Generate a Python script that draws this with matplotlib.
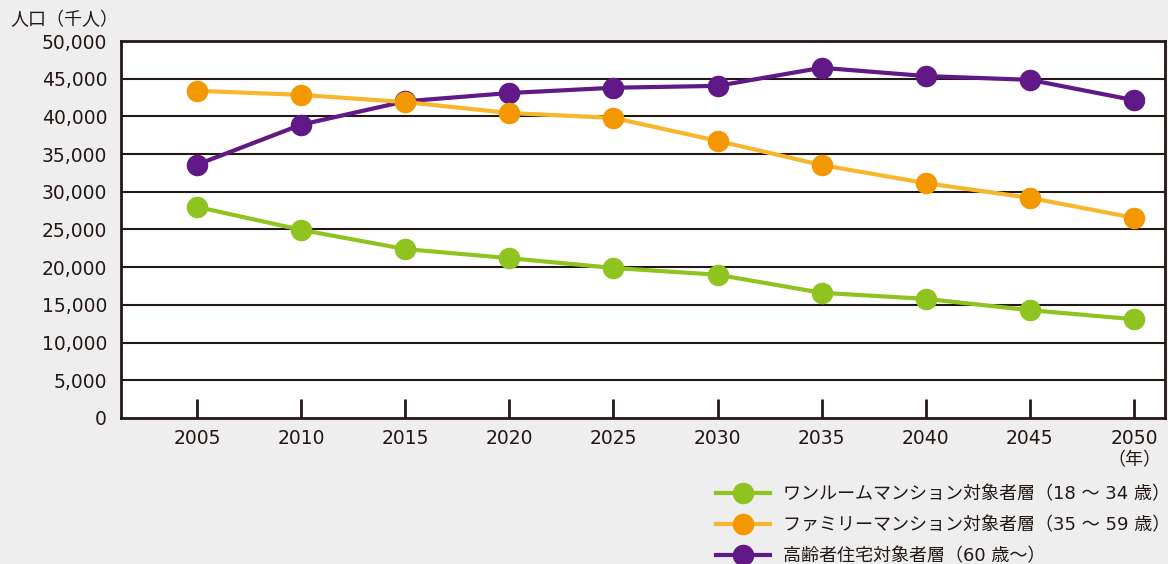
import matplotlib
matplotlib.use("Agg")
from matplotlib import pyplot as plt

# 数字は幅の広い DejaVu、和文は Noto Sans CJK JP
plt.rcParams['font.family'] = ['DejaVu Sans', 'Noto Sans CJK JP']

# データ（千人）
years = [2005, 2010, 2015, 2020, 2025, 2030, 2035, 2040, 2045, 2050]
one_room = [28000, 24950, 22400, 21200, 19900, 19000, 16600, 15800, 14300, 13100]
family = [43400, 42850, 41900, 40450, 39800, 36750, 33550, 31150, 29200, 26550]
elderly = [33600, 38900, 42000, 43100, 43800, 44050, 46450, 45350, 44850, 42150]
labels = ["ワンルームマンション対象者層（18 ～ 34 歳）",
          "ファミリーマンション対象者層（35 ～ 59 歳）",
          "高齢者住宅対象者層（60 歳～）"]
yticks = list(range(0, 50001, 5000))

bg = "#eeeeee"
ink = "#231815"

fig = plt.figure(figsize=(11.68, 5.64), dpi=100, facecolor=bg)
ax = fig.add_axes([0.1036, 0.2589, 0.894, 0.6684])
ax.set_facecolor("white")

# 横線
for v in yticks[1:-1]:
    ax.axhline(v, color=ink, lw=1.5, zorder=1)

l3, = ax.plot(years, elderly, color="#601986", lw=3, marker="o", ms=14.5,
              mfc="#601986", mec="#601986", zorder=3)
l2, = ax.plot(years, family, color="#f8b62d", lw=3, marker="o", ms=14.5,
              mfc="#f39800", mec="#f39800", zorder=4)
l1, = ax.plot(years, one_room, color="#8fc31f", lw=3, marker="o", ms=14.5,
              mfc="#8fc31f", mec="#8fc31f", zorder=5)

ax.set_xlim(2001.35, 2051.5)
ax.set_ylim(0, 50000)
ax.set_yticks(yticks)
ax.set_yticklabels(["{:,}".format(v) for v in yticks], fontsize=13.5, color=ink)
ax.set_xticks(years)
ax.set_xticklabels([str(y) for y in years], fontsize=13.5, color=ink)
ax.tick_params(axis="y", length=0, pad=10)
ax.tick_params(axis="x", direction="in", length=14, width=2, color=ink, pad=8)
for s in ax.spines.values():
    s.set_color(ink)
    s.set_linewidth(2)

fig.text(10 / 1168, 1 - 20 / 564, "人口（千人）", fontsize=13, color=ink,
         ha="left", va="center", family="Noto Sans CJK JP")
fig.text(1134 / 1168, 1 - 460 / 564, "（年）", fontsize=13, color=ink,
         ha="center", va="center", family="Noto Sans CJK JP")

fig.legend([l1, l2, l3], labels, loc="upper left",
           bbox_to_anchor=(716 / 1168, 1 - 485 / 564), frameon=False,
           fontsize=13, handlelength=3, handletextpad=0.7, labelspacing=0.74,
           borderpad=0, borderaxespad=0, labelcolor=ink)

plt.savefig("out.png", dpi=100, facecolor=bg)
